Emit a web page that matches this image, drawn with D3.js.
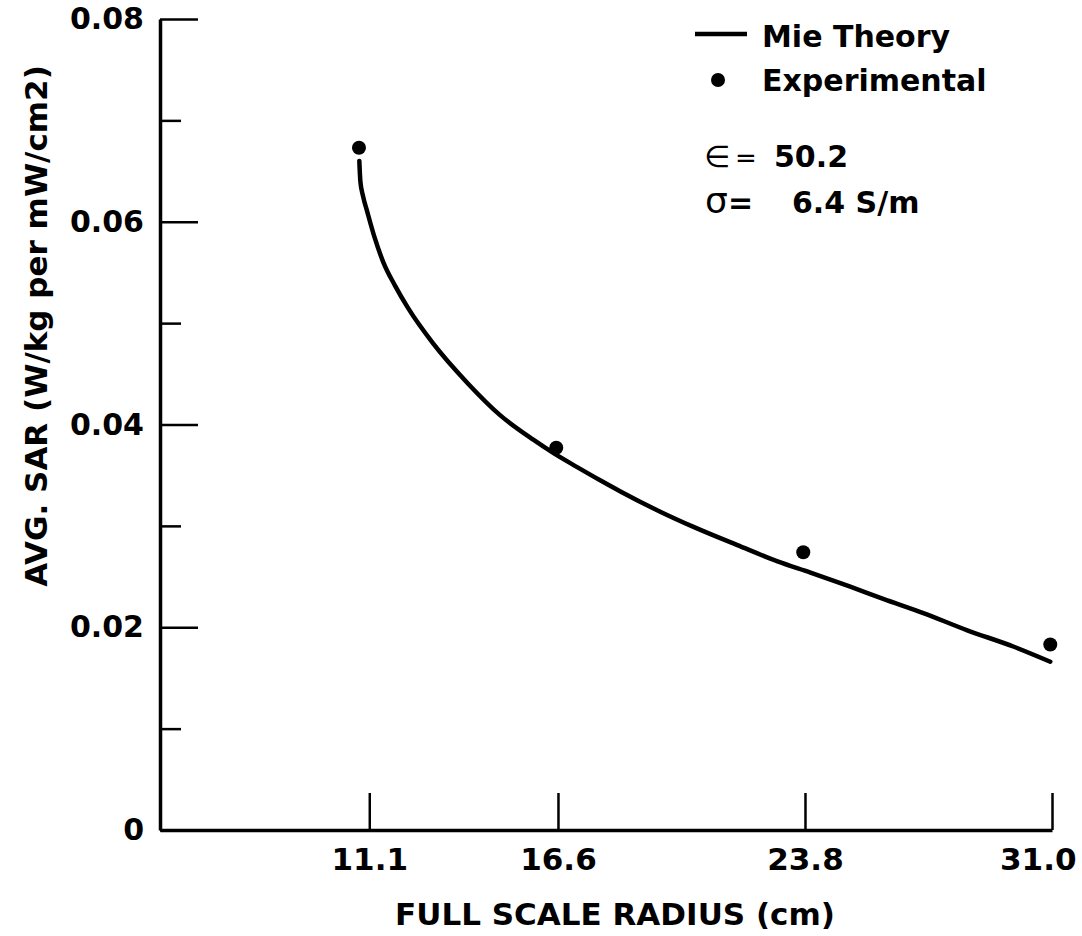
<!DOCTYPE html>
<html>
<head>
<meta charset="utf-8">
<script src="https://cdn.jsdelivr.net/npm/d3@7"></script>
<style>
  html, body { margin: 0; padding: 0; background: #fff; }
  svg { display: block; }
  text { font-family: "DejaVu Sans", "Liberation Sans", sans-serif; font-weight: bold; fill: #000; }
</style>
</head>
<body>
<svg id="chart" width="1082" height="936"></svg>
<script>
// ---- data ----
const xTickValues = [11.1, 16.6, 23.8, 31.0];
const yMajorTicks = [0, 0.02, 0.04, 0.06, 0.08];
const yMinorTicks = [0.01, 0.03, 0.05, 0.07];

const expRadius = [10.8, 16.55, 23.75, 30.95];
const expSAR    = [0.0673, 0.0377, 0.0274, 0.0183];

const mieRadius = [10.81, 10.84, 10.92, 11.04, 11.25, 11.51, 11.85, 12.21, 12.96, 13.96,
                   14.92, 15.88, 16.46, 17.16, 17.83, 18.42, 19.58, 20.55, 21.83, 23.0,
                   23.96, 25.12, 26.08, 27.25, 28.53, 29.87, 30.95];
const mieSAR    = [0.0660, 0.0640, 0.0625, 0.0610, 0.0585, 0.0560, 0.0537, 0.0516, 0.0480, 0.0441,
                   0.0409, 0.0385, 0.0372, 0.0358, 0.0345, 0.0334, 0.0314, 0.0299, 0.0281, 0.0265,
                   0.0254, 0.0240, 0.0228, 0.0214, 0.0197, 0.0181, 0.0166];

const legendLabels = ["Mie Theory", "Experimental"];
const xTitle = "FULL SCALE RADIUS (cm)";
const yTitle = "AVG. SAR (W/kg per mW/cm2)";

// ---- scales ----
const svg = d3.select("#chart");
const x = d3.scaleLinear().domain([5, 31]).range([160, 1052]);
const y = d3.scaleLinear().domain([0, 0.08]).range([830, 19]);

// ---- axes ----
const yFmt = d => d === 0 ? "0" : d3.format(".2f")(d);

const yMajor = svg.append("g").attr("transform", `translate(${x(5)},0)`)
  .call(d3.axisLeft(y).tickValues(yMajorTicks).tickSize(-38).tickSizeOuter(0)
        .tickPadding(16).tickFormat(yFmt));
const yMinor = svg.append("g").attr("transform", `translate(${x(5)},0)`)
  .call(d3.axisLeft(y).tickValues(yMinorTicks).tickSize(-21).tickSizeOuter(0).tickFormat(""));
yMinor.select(".domain").remove();

const xAxis = svg.append("g").attr("transform", `translate(0,${y(0)})`)
  .call(d3.axisBottom(x).tickValues(xTickValues).tickSize(-37).tickSizeOuter(0)
        .tickPadding(18).tickFormat(d3.format(".1f")));

[yMajor, yMinor, xAxis].forEach(g => {
  g.select(".domain").attr("stroke", "#000").attr("stroke-width", 3.5);
  g.selectAll(".tick line").attr("stroke", "#000").attr("stroke-width", 2.5);
});
yMajor.selectAll(".tick text").attr("font-size", 30).attr("font-family", null).attr("fill", "#000");
xAxis.selectAll(".tick text").attr("font-size", 31).attr("font-family", null).attr("fill", "#000");
// keep the last x label inside the frame, as in the reference
xAxis.selectAll(".tick text").filter(d => d === 31.0).attr("text-anchor", "end").attr("x", 24);

// ---- axis titles ----
svg.append("text").attr("x", 615).attr("y", 925).attr("text-anchor", "middle")
  .attr("font-size", 31).text(xTitle);
svg.append("text").attr("transform", "translate(47,326) rotate(-90)").attr("text-anchor", "middle")
  .attr("font-size", 31).text(yTitle);

// ---- Mie theory curve ----
const mie = mieRadius.map((r, i) => [r, mieSAR[i]]);
svg.append("path").datum(mie)
  .attr("fill", "none").attr("stroke", "#000").attr("stroke-width", 4.5).attr("stroke-linecap", "round")
  .attr("d", d3.line().x(d => x(d[0])).y(d => y(d[1])).curve(d3.curveMonotoneX));

// ---- experimental points ----
svg.selectAll("circle.exp").data(expRadius.map((r, i) => [r, expSAR[i]]))
  .join("circle").attr("class", "exp")
  .attr("cx", d => x(d[0])).attr("cy", d => y(d[1])).attr("r", 7).attr("fill", "#000");

// ---- legend ----
svg.append("line").attr("x1", 695).attr("x2", 747).attr("y1", 34).attr("y2", 34)
  .attr("stroke", "#000").attr("stroke-width", 4.5);
svg.append("text").attr("x", 762).attr("y", 47).attr("font-size", 30).text(legendLabels[0]);
svg.append("circle").attr("cx", 718).attr("cy", 80).attr("r", 7).attr("fill", "#000");
svg.append("text").attr("x", 762).attr("y", 91).attr("font-size", 30).text(legendLabels[1]);

// ---- parameters ----
const t1 = svg.append("text").attr("y", 167).attr("font-size", 30);
t1.append("tspan").attr("x", 704).attr("font-weight", "normal").attr("font-size", 30).text("∈");
t1.append("tspan").attr("x", 735).attr("font-weight", "normal").attr("font-size", 26).text("=");
t1.append("tspan").attr("x", 774).text("50.2");
const t2 = svg.append("text").attr("y", 213).attr("font-size", 30);
t2.append("tspan").attr("x", 705).attr("font-weight", "normal").attr("font-size", 36).text("σ");
t2.append("tspan").attr("x", 728).text("=");
t2.append("tspan").attr("x", 792).text("6.4 S/m");
</script>
</body>
</html>
